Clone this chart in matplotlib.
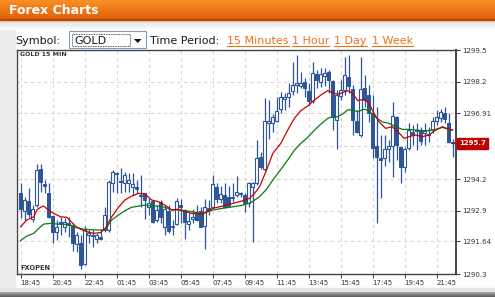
import numpy as np
import matplotlib
matplotlib.use('Agg')
import matplotlib.pyplot as plt
from matplotlib.patches import Rectangle, Polygon
from matplotlib.transforms import blended_transform_factory

W, H = 495, 297

# ---------------- data ----------------
time_labels = ['18:45', '20:45', '22:45', '01:45', '03:45', '05:45', '07:45',
               '09:45', '11:45', '13:45', '15:45', '17:45', '19:45', '21:45']
candles_per_label = 8

price_ticks = [1290.3, 1291.64, 1292.9, 1294.2, 1295.56, 1296.91, 1298.2, 1299.5]
# the 1295.56 label is hidden behind the current-price box in the reference
price_tick_labels = ['1290.3', '1291.64', '1292.9', '1294.2', '', '1296.91', '1298.2', '1299.5']

opens = [1293.64, 1292.90, 1293.30, 1292.55, 1293.13, 1294.60, 1294.00, 1293.64, 1292.68, 1292.02,
         1292.45, 1292.23, 1292.38, 1292.27, 1291.53, 1291.56, 1290.71, 1291.91, 1291.91, 1291.73,
         1291.84, 1292.11, 1292.11, 1294.05, 1294.46, 1294.12, 1294.02, 1294.02, 1293.86, 1293.86,
         1293.54, 1293.62, 1293.04, 1293.31, 1292.52, 1293.27, 1292.23, 1292.90, 1292.27, 1292.36,
         1293.13, 1292.93, 1292.36, 1292.54, 1292.86, 1292.89, 1292.27, 1293.00, 1293.06, 1293.88,
         1293.37, 1293.54, 1293.47, 1293.47, 1293.54, 1293.60, 1293.54, 1293.20, 1293.88, 1294.02,
         1295.12, 1294.60, 1296.49, 1296.51, 1296.60, 1297.07, 1297.50, 1297.58, 1297.80, 1298.07,
         1298.02, 1298.20, 1297.82, 1297.41, 1298.51, 1298.20, 1298.43, 1298.58, 1298.24, 1296.63,
         1297.63, 1297.86, 1298.38, 1297.89, 1296.60, 1296.01, 1297.93, 1297.65, 1296.90, 1295.56,
         1295.05, 1295.05, 1295.43, 1295.56, 1296.75, 1295.53, 1294.71, 1295.46, 1296.15, 1296.20,
         1296.21, 1296.10, 1296.05, 1296.21, 1296.60, 1296.70, 1296.90, 1296.52, 1295.73]
highs = [1294.02, 1293.48, 1293.82, 1293.13, 1294.81, 1294.82, 1294.16, 1294.02, 1292.72, 1292.52,
         1292.66, 1292.59, 1292.66, 1292.38, 1292.04, 1291.91, 1292.27, 1292.11, 1292.11, 1291.98,
         1292.11, 1293.04, 1294.16, 1294.57, 1294.50, 1294.64, 1294.50, 1294.43, 1294.46, 1294.16,
         1294.37, 1293.64, 1293.41, 1293.34, 1293.13, 1293.34, 1293.13, 1293.13, 1292.52, 1293.41,
         1293.38, 1292.99, 1292.79, 1292.99, 1293.13, 1293.06, 1293.37, 1293.34, 1294.37, 1294.05,
         1293.91, 1294.02, 1293.91, 1294.05, 1294.32, 1293.68, 1293.62, 1294.09, 1294.09, 1295.80,
         1295.33, 1297.54, 1297.45, 1296.88, 1297.58, 1297.79, 1297.72, 1298.13, 1299.02, 1299.29,
         1298.61, 1298.34, 1298.13, 1299.02, 1298.68, 1298.75, 1298.76, 1298.68, 1298.27, 1297.86,
         1298.27, 1299.22, 1299.29, 1298.06, 1297.04, 1299.22, 1298.47, 1298.06, 1297.65, 1297.16,
         1295.99, 1296.02, 1295.80, 1297.38, 1296.79, 1295.56, 1295.53, 1296.49, 1296.42, 1296.49,
         1296.35, 1296.49, 1296.32, 1296.74, 1297.04, 1297.07, 1297.17, 1296.90, 1295.83]
lows = [1292.59, 1292.52, 1292.63, 1292.45, 1293.04, 1293.68, 1293.64, 1292.59, 1291.59, 1291.70,
        1291.91, 1292.02, 1291.84, 1291.26, 1291.22, 1290.49, 1290.67, 1291.56, 1291.42, 1291.56,
        1291.68, 1292.02, 1292.04, 1293.68, 1293.64, 1293.64, 1293.68, 1293.68, 1293.54, 1293.61,
        1293.07, 1292.55, 1292.72, 1292.41, 1292.45, 1292.38, 1291.91, 1292.00, 1291.91, 1292.31,
        1292.38, 1291.73, 1292.11, 1292.38, 1292.49, 1292.23, 1291.32, 1292.72, 1292.99, 1293.20,
        1293.20, 1293.00, 1293.06, 1293.27, 1293.48, 1293.48, 1292.86, 1293.06, 1291.63, 1293.95,
        1294.60, 1294.55, 1295.83, 1296.13, 1296.56, 1296.90, 1297.04, 1297.17, 1297.65, 1297.72,
        1297.93, 1297.58, 1297.24, 1297.34, 1297.93, 1297.99, 1298.02, 1297.72, 1296.21, 1295.42,
        1297.45, 1297.65, 1297.72, 1296.01, 1296.08, 1295.94, 1297.17, 1296.56, 1295.05, 1292.41,
        1293.41, 1294.74, 1294.91, 1294.30, 1294.97, 1294.05, 1294.50, 1295.39, 1295.60, 1295.39,
        1295.60, 1295.60, 1295.73, 1296.08, 1296.42, 1296.56, 1296.49, 1295.67, 1295.09]
closes = [1292.96, 1293.34, 1292.77, 1292.96, 1294.57, 1294.09, 1293.92, 1292.63, 1292.04, 1292.23,
          1292.39, 1292.45, 1292.32, 1291.56, 1291.91, 1290.67, 1292.11, 1291.99, 1291.87, 1291.91,
          1291.73, 1292.72, 1294.09, 1294.50, 1294.42, 1294.08, 1294.37, 1294.16, 1293.99, 1293.80,
          1293.50, 1293.34, 1293.20, 1292.45, 1292.93, 1292.66, 1292.96, 1292.07, 1292.23, 1293.30,
          1293.04, 1292.45, 1292.48, 1292.66, 1292.52, 1292.24, 1293.06, 1292.93, 1293.98, 1293.37,
          1293.58, 1293.04, 1293.09, 1293.41, 1293.68, 1293.63, 1293.20, 1294.02, 1294.02, 1295.08,
          1294.71, 1296.58, 1296.60, 1296.75, 1297.00, 1297.58, 1297.55, 1297.72, 1298.07, 1298.13,
          1298.16, 1297.93, 1297.41, 1298.54, 1298.27, 1298.51, 1298.54, 1298.27, 1296.76, 1297.65,
          1297.84, 1298.47, 1298.02, 1296.63, 1296.15, 1297.89, 1297.45, 1296.90, 1295.46, 1295.12,
          1295.00, 1295.42, 1295.56, 1296.79, 1295.61, 1294.71, 1295.42, 1296.21, 1296.01, 1296.18,
          1295.77, 1296.18, 1296.00, 1296.60, 1296.76, 1296.97, 1296.65, 1295.73, 1295.67]

# moving averages (candle position, price)
ma_fast_pos = [0, 1.6, 3.3, 4.1, 5, 5.8, 7.5, 10, 11.6, 13.7, 15, 16.6, 18.3, 20, 21.2, 22.8,
               24.5, 26.1, 27.8, 29.5, 31.1, 32.8, 34.5, 36.1, 37.8, 39.5, 41.1, 42.8, 45.6,
               48.1, 50.6, 53.1, 55.6, 57.3, 58.5, 59.8, 61.5, 63.1, 65.1, 66.8, 68.5, 70.1,
               71.8, 73.5, 75.1, 76.8, 78, 79.3, 80.5, 81.8, 83, 84.3, 85.9, 87.1, 88.4, 89.6,
               91.3, 92.9, 94.6, 95.9, 97.1, 98.8, 100.5, 102.1, 103.8, 105.5, 107.1, 108]
ma_fast_val = [1292.24, 1292.52, 1292.65, 1292.93, 1293.04, 1293.09, 1292.86, 1292.65, 1292.63,
               1292.27, 1292.14, 1292.04, 1291.97, 1292.00, 1292.18, 1292.65, 1293.04, 1293.34,
               1293.50, 1293.61, 1293.59, 1293.34, 1293.27, 1293.13, 1292.93, 1292.96, 1292.86,
               1292.79, 1292.77, 1293.00, 1293.09, 1293.20, 1293.31, 1293.41, 1293.61, 1293.89,
               1294.57, 1295.26, 1295.67, 1296.21, 1296.70, 1297.01, 1297.20, 1297.45, 1297.65,
               1297.83, 1297.75, 1297.68, 1297.75, 1297.83, 1297.72, 1297.42, 1297.48, 1297.31,
               1296.90, 1296.55, 1296.28, 1296.35, 1296.10, 1295.87, 1295.94, 1296.01, 1295.94,
               1296.01, 1296.21, 1296.35, 1296.24, 1296.21]
ma_slow_pos = [0, 1.6, 3.3, 5, 5.8, 7.5, 10, 11.6, 12.5, 13.7, 15.8, 18.3, 21.1, 22.8, 24.5,
               26.1, 27.8, 29.5, 31.1, 32.8, 34.5, 36.1, 37.8, 39.5, 41.1, 42.8, 45.6, 48.1,
               50.6, 53.1, 55.6, 57.6, 59.8, 61.5, 63.1, 65.6, 66.8, 68.5, 70.1, 71.8, 73.5,
               75.1, 76.8, 78, 79.3, 80.5, 81.8, 83, 84.3, 85.9, 87.1, 88.8, 90.4, 92.1, 93.8,
               95.5, 97.1, 98.8, 100.5, 102.1, 103.8, 105.5, 107.1, 108]
ma_slow_val = [1291.67, 1291.86, 1291.97, 1292.24, 1292.35, 1292.38, 1292.34, 1292.34, 1292.31,
               1292.22, 1292.14, 1292.11, 1292.11, 1292.52, 1292.72, 1292.90, 1293.04, 1293.09,
               1293.13, 1293.09, 1293.09, 1293.04, 1292.93, 1292.93, 1292.90, 1292.86, 1292.79,
               1292.93, 1293.00, 1293.06, 1293.13, 1293.23, 1293.48, 1293.78, 1294.16, 1294.71,
               1294.98, 1295.39, 1295.67, 1295.91, 1296.21, 1296.46, 1296.69, 1296.76, 1296.76,
               1296.87, 1297.04, 1297.04, 1296.97, 1297.07, 1297.01, 1296.74, 1296.55, 1296.49,
               1296.35, 1296.24, 1296.24, 1296.21, 1296.19, 1296.19, 1296.24, 1296.32, 1296.24,
               1296.21]

symbol = 'GOLD'
period_links = ['15 Minutes', '1 Hour', '1 Day', '1 Week']

# ---------------- figure ----------------
fig = plt.figure(figsize=(W / 100, H / 100), dpi=100)
fig.patch.set_facecolor('white')

bg = fig.add_axes([0, 0, 1, 1], zorder=0)
bg.set_xlim(0, W)
bg.set_ylim(H, 0)
bg.axis('off')

def vgrad(c_top, c_bot, n=32):
    t = np.linspace(0, 1, n)[:, None, None]
    a = np.array(matplotlib.colors.to_rgb(c_top))[None, None, :]
    b = np.array(matplotlib.colors.to_rgb(c_bot))[None, None, :]
    return a * (1 - t) + b * t

bg.add_patch(Rectangle((0, 0), W, H, color='white', zorder=0))
bg.add_patch(Rectangle((0, 20), 15, 270, color='#ececec', zorder=1))
bg.imshow(vgrad('#dcdcdc', '#ffffff'), extent=[0, W, 30, 20], aspect='auto', zorder=1)
bg.imshow(vgrad('#fb9326', '#e2600c'), extent=[0, W, 19.5, 0], aspect='auto', zorder=2)
bg.add_patch(Rectangle((0, 19), W, 1.2, color='#b94a00', zorder=3))
bg.add_patch(Rectangle((0, 288), W, 4, color='#e4e4e4', zorder=1))
bg.imshow(vgrad('#a8a8a8', '#5c5c5c'), extent=[0, W, 297, 292], aspect='auto', zorder=2)
bg.set_xlim(0, W)
bg.set_ylim(H, 0)

bg.text(9, 13.5, 'Forex Charts', color='white', fontsize=9, fontweight='bold',
        va='baseline', ha='left', zorder=4)

ui_font = dict(fontsize=8, va='baseline', ha='left', zorder=4, color='#1a1a1a')
bg.text(15, 44, 'Symbol:', **ui_font)
bg.add_patch(Rectangle((69, 31), 77, 17, fc='white', ec='#7f9db9', lw=0.8, zorder=3))
bg.add_patch(Rectangle((71.5, 33.5), 58, 12, fc='none', ec='#222222', lw=0.6,
                       linestyle=(0, (1, 1)), zorder=4))
bg.text(74, 44, symbol, **ui_font)
bg.add_patch(Polygon([[134, 39], [141.5, 39], [137.75, 43]], closed=True,
                     fc='#111111', ec='none', zorder=4))
bg.text(150, 44, 'Time Period:', **ui_font)

link_x = [227, 292, 334, 372]
link_texts = []
for lx, lab in zip(link_x, period_links):
    t = bg.text(lx, 44, lab, fontsize=8, va='baseline', ha='left', color='#e8731f', zorder=4)
    link_texts.append(t)

# ---------------- chart ----------------
x0, x1, ytop, ybot = 17, 456, 50, 274
ax = fig.add_axes([x0 / W, (H - ybot) / H, (x1 - x0) / W, (ybot - ytop) / H], zorder=2)
ax.set_facecolor('white')

n = len(closes)
idx = np.arange(n)
ax.set_xlim(-0.875, n - 1 + 0.875)
ax.set_ylim(price_ticks[0], price_ticks[-1])

blue = '#2d5597'
o = np.array(opens); c = np.array(closes)
hi = np.array(highs); lo = np.array(lows)
ax.vlines(idx, lo, hi, color=blue, lw=0.9, zorder=3)
bottoms = np.minimum(o, c)
heights = np.maximum(np.abs(c - o), 0.035)
up = c >= o
ax.bar(idx[up], heights[up], bottom=bottoms[up], width=0.55, color='white',
       edgecolor=blue, linewidth=0.8, zorder=4)
ax.bar(idx[~up], heights[~up], bottom=bottoms[~up], width=0.6, color=blue,
       edgecolor=blue, linewidth=0.7, zorder=4)

ax.plot(ma_slow_pos, ma_slow_val, color='#0a7a0a', lw=0.9, zorder=5)
ax.plot(ma_fast_pos, ma_fast_val, color='#c80000', lw=0.9, zorder=5)

ax.set_xticks(idx[::candles_per_label][:len(time_labels)])
ax.set_xticklabels(time_labels)
for lab in ax.get_xticklabels():
    lab.set_ha('left')
ax.set_yticks(price_ticks)
ax.set_yticklabels(price_tick_labels)

ax.tick_params(axis='x', length=3, width=0.8, color='#444444', labelsize=5,
               labelcolor='#333333', pad=1.5)
ax.tick_params(axis='y', left=False, right=True, labelleft=False, labelright=True,
               length=3, width=0.8, color='#444444', labelsize=5, labelcolor='#333333', pad=1.5)
ax.grid(True, color='#d6d6d6', linestyle=(0, (3, 3)), linewidth=0.8)
ax.set_axisbelow(True)
for side, sp in ax.spines.items():
    sp.set_color('#444444')
    sp.set_linewidth(1.0)
ax.spines['right'].set_linewidth(1.4)

ax.text(0.007, 0.99, 'GOLD 15 MIN', transform=ax.transAxes, fontsize=4.5,
        va='top', ha='left', color='#333333', fontweight='bold', zorder=6)
ax.text(0.007, 0.015, 'FXOPEN', transform=ax.transAxes, fontsize=4.8,
        va='bottom', ha='left', color='#333333', fontweight='bold', zorder=6)

last = closes[-1]
bt = blended_transform_factory(ax.transAxes, ax.transData)
ax.plot([0.99, 1.006], [last, last], transform=bt, color='#c00000', lw=1.0,
        clip_on=False, zorder=7)
ax.text(1.0 + 3 / (x1 - x0), last, f'{last:.1f}', transform=bt, fontsize=5,
        color='white', fontweight='bold', va='center', ha='left', zorder=8,
        bbox=dict(boxstyle='square,pad=0.35', fc='#c00000', ec='#c00000'))

# underline links
fig.canvas.draw()
r = fig.canvas.get_renderer()
inv = bg.transData.inverted()
for t in link_texts:
    bb = t.get_window_extent(r)
    (ax_, ay_), (bx_, by_) = inv.transform([[bb.x0, bb.y0], [bb.x1, bb.y1]])
    bg.plot([ax_, bx_], [46, 46], color='#e8731f', lw=0.8, zorder=4)
bg.set_xlim(0, W)
bg.set_ylim(H, 0)

fig.savefig('out.png', dpi=100)
